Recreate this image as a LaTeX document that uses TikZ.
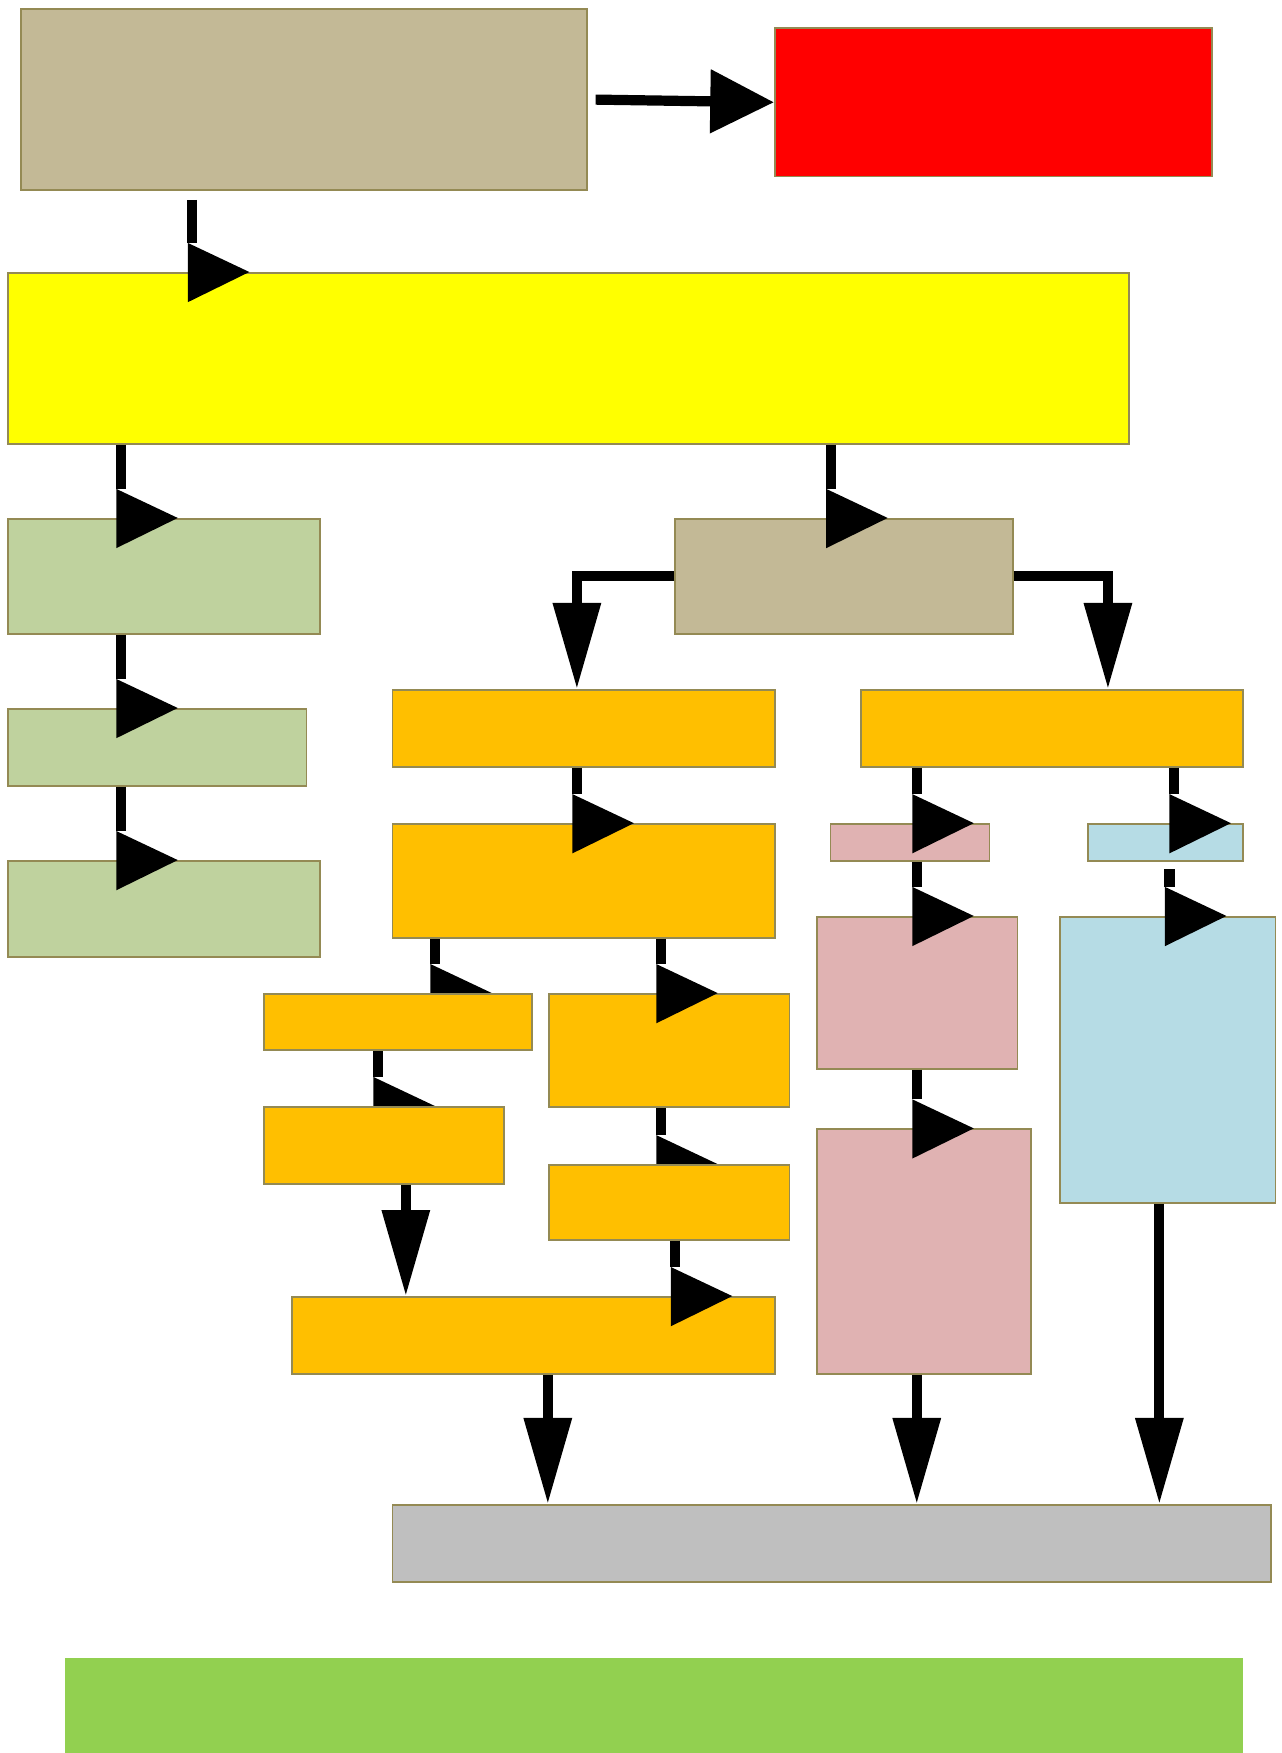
\documentclass[tikz,border=0pt]{standalone}
\usetikzlibrary{arrows.meta, calc, fit, backgrounds}

\definecolor{tanfill}{RGB}{195,185,150}
\definecolor{redfill}{RGB}{255,0,0}
\definecolor{yellowfill}{RGB}{255,255,0}
\definecolor{greenfill}{RGB}{191,210,158}
\definecolor{orangefill}{RGB}{255,191,0}
\definecolor{pinkfill}{RGB}{224,178,178}
\definecolor{bluefill}{RGB}{182,220,229}
\definecolor{greyfill}{RGB}{191,191,191}
\definecolor{barfill}{RGB}{146,208,80}
\definecolor{edge}{RGB}{148,138,84}

\tikzset{
	box/.style={draw=edge, line width=0.8pt, inner sep=0pt},
	wire/.style={line width=5.2pt},
	downtip/.style={-{Triangle[length=1.54cm, width=0.82cm]}},
	righttip/.style={-{Triangle[length=1.14cm, width=1.1cm]}},
}

% link whose head lies on its side on the top edge of the target box
\newcommand{\sidelink}[4][]{%
	\draw[wire, #1] (#4,0 |- #2.south) -- ($(#4,0 |- #3.north)+(0,-26)$);
	\fill ($(#4,0 |- #3.north)+(-4,0)$) +(0,-26) -- +(0,27) -- +(55,0) -- cycle;
}

\begin{document}
\begin{tikzpicture}[x=0.02cm, y=-0.02cm]
	\useasboundingbox (0,0) rectangle (1146,1568);
	
	% Top row
	\node[box, fill=tanfill, fit={(19,8) (525,170)}] (tanA) {};
	\node[box, fill=redfill, fit={(693,25) (1084,158)}] (redA) {};
	\node[box, fill=yellowfill, fit={(7,244) (1010,397)}] (yel) {};
	
	% Left column
	\node[box, fill=greenfill, fit={(7,464) (286,567)}] (grA) {};
	\node[box, fill=greenfill, fit={(7,634) (274,703)}] (grB) {};
	\node[box, fill=greenfill, fit={(7,770) (286,856)}] (grC) {};
	
	% Middle and right branches
	\node[box, fill=tanfill, fit={(604,464) (906,567)}] (tanB) {};
	\node[box, fill=orangefill, fit={(351,617) (693,686)}] (ob1) {};
	\node[box, fill=orangefill, fit={(770,617) (1112,686)}] (ob2) {};
	\node[box, fill=orangefill, fit={(351,737) (693,839)}] (ob3) {};
	\node[box, fill=orangefill, fit={(236,889) (476,939)}] (ob4) {};
	\node[box, fill=orangefill, fit={(491,889) (706,990)}] (ob5) {};
	\node[box, fill=orangefill, fit={(236,990) (451,1059)}] (ob6) {};
	\node[box, fill=orangefill, fit={(491,1042) (706,1109)}] (ob7) {};
	\node[box, fill=orangefill, fit={(261,1160) (693,1229)}] (ob8) {};
	\node[box, fill=pinkfill, fit={(743,737) (885,770)}] (pinkA) {};
	\node[box, fill=pinkfill, fit={(731,820) (910,956)}] (pinkB) {};
	\node[box, fill=pinkfill, fit={(731,1010) (922,1229)}] (pinkC) {};
	\node[box, fill=bluefill, fit={(973,737) (1112,770)}] (blueA) {};
	\node[box, fill=bluefill, fit={(948,820) (1141,1076)}] (blueB) {};
	
	% Bottom
	\node[box, fill=greyfill, fit={(351,1346) (1137,1415)}] (grey) {};
	\fill[barfill] (58,1483) rectangle (1112,1568);
	
	% Straight arrows
	\draw[wire, righttip, shorten <=4] (tanA.east) -- (redA.west);
	\draw[wire, downtip] (tanB.west) -| (516,0 |- ob1.north);
	\draw[wire, downtip] (tanB.east) -| (991,0 |- ob2.north);
	\draw[wire, downtip] (363,0 |- ob6.south) -- (363,0 |- ob8.north);
	\foreach \src/\x in {ob8/490, pinkC/820, blueB/1037} {
		\draw[wire, downtip] (\x,0 |- \src.south) -- (\x,0 |- grey.north);
	}
	
	% Links with heads on their side
	\sidelink[shorten <=0.16cm]{tanA}{yel}{172}
	\sidelink[shorten <=0.14cm]{blueA}{blueB}{1046}
	\foreach \a/\b/\x in {yel/grA/108, grA/grB/108, grB/grC/108, yel/tanB/743,
		ob1/ob3/516, ob2/pinkA/820, ob2/blueA/1050, pinkA/pinkB/820,
		ob3/ob5/591, ob7/ob8/604, pinkB/pinkC/820} {
		\sidelink{\a}{\b}{\x}
	}
	% these heads sit behind their target boxes
	\begin{scope}[on background layer]
		\foreach \a/\b/\x in {ob3/ob4/389, ob4/ob6/338, ob5/ob7/591} {
			\sidelink{\a}{\b}{\x}
		}
	\end{scope}
\end{tikzpicture}
\end{document}
